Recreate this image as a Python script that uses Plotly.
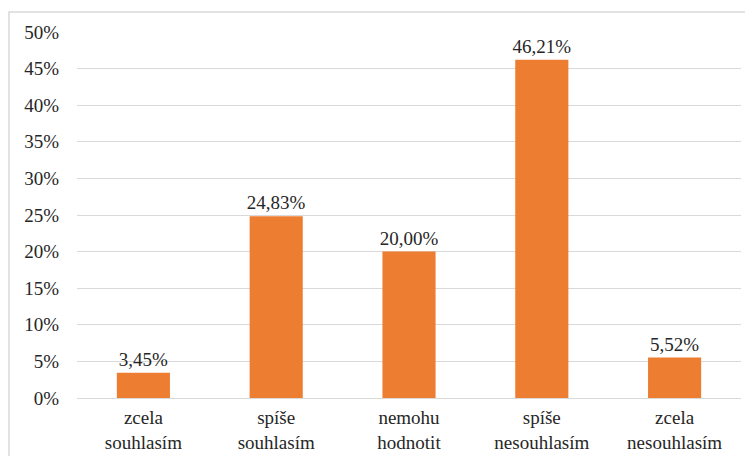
import plotly.graph_objects as go

categories = ["zcela<br>souhlasím", "spíše<br>souhlasím", "nemohu<br>hodnotit",
              "spíše<br>nesouhlasím", "zcela<br>nesouhlasím"]
values = [3.45, 24.83, 20.00, 46.21, 5.52]
y_ticks = [0, 5, 10, 15, 20, 25, 30, 35, 40, 45, 50]

labels = [f"{v:.2f}%".replace(".", ",") for v in values]
y_tick_text = [f"{t}%" for t in y_ticks]

# page body has an 8px margin, so the figure is a bit smaller than the window
W, H = 745, 448
ml, mr, mt, mb = 69, 12, 24, 58
font = dict(family="Times New Roman, Liberation Serif, serif", size=19, color="#262626")

fig = go.Figure()
fig.add_trace(go.Bar(
    x=categories,
    y=values,
    text=labels,
    textposition="outside",
    constraintext="none",
    textfont=font,
    marker=dict(color="#ED7D31", line=dict(width=0)),
    width=0.4,
    cliponaxis=False,
))

# chart border (left and top edges visible in the reference)
fig.add_shape(type="rect", xref="paper", yref="paper",
              x0=(1 - ml) / (W - ml - mr), x1=1.5,
              y0=-1, y1=1 + (mt - 4) / (H - mt - mb),
              line=dict(color="#D9D9D9", width=1.5), layer="below")

fig.update_layout(
    width=W, height=H,
    margin=dict(l=ml, r=mr, t=mt, b=mb),
    paper_bgcolor="white",
    plot_bgcolor="white",
    font=font,
    showlegend=False,
    bargap=0.6,
    xaxis=dict(showgrid=False, showline=False, ticks="", tickfont=font,
               tickangle=0, ticklabelstandoff=6, automargin=False),
    yaxis=dict(range=[0, 50], tickmode="array", tickvals=y_ticks,
               ticktext=y_tick_text, automargin=False,
               showgrid=True, gridcolor="#D9D9D9", gridwidth=1.3,
               zeroline=True, zerolinecolor="#D9D9D9", zerolinewidth=1.3,
               showline=False, ticks="", tickfont=font,
               ticklabelstandoff=17),
)

fig.write_html("out.html")
